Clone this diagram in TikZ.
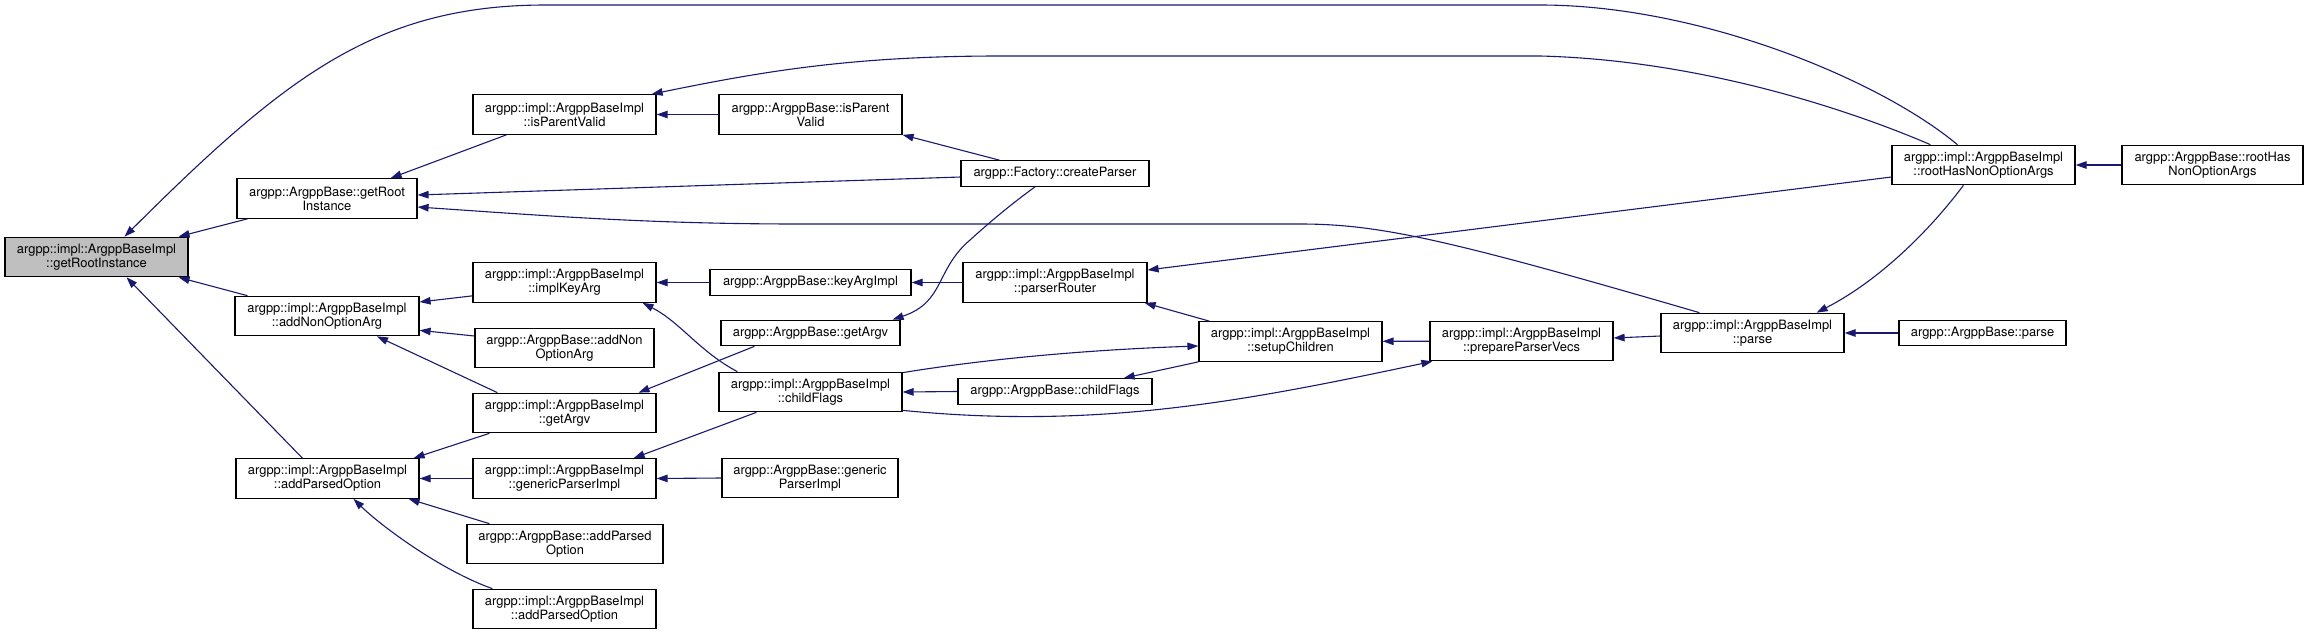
\documentclass[tikz,border=0pt]{standalone}
\usepackage{fontspec}
\setmainfont{TeX Gyre Heros}
\usepackage{xcolor}
\definecolor{callline}{HTML}{191970}
\definecolor{rootgray}{HTML}{BFBFBF}
\usepackage{tikz}
\usetikzlibrary{arrows.meta,calc}

\begin{document}
\begin{tikzpicture}[x=1pt,y=-1pt,>={Triangle[length=11pt,width=7.5pt]},
  every node/.style={font=\fontsize{12.9}{14}\selectfont},
  fn/.style={draw=black,fill=white,rectangle,inner sep=0pt,align=center,line width=1.2pt,minimum width=183pt,minimum height=39.5pt},
  fnone/.style={fn,minimum height=25.5pt},
  call/.style={<-,draw=callline,line width=1.1pt}]
\useasboundingbox (0,0) rectangle (2308,635);
\node[fn,fill=rootgray] (R) at (96.5,257) {argpp::impl::ArgppBaseImpl\\::getRootInstance};
\node[fn,minimum width=180pt] (GRI) at (327,198.5) {argpp::ArgppBase::getRoot\\Instance};
\node[fn,minimum width=184pt] (ANO) at (327,316) {argpp::impl::ArgppBaseImpl\\::addNonOptionArg};
\node[fn] (APO) at (327.5,478.5) {argpp::impl::ArgppBaseImpl\\::addParsedOption};
\node[fn] (IPV) at (564.5,114.5) {argpp::impl::ArgppBaseImpl\\::isParentValid};
\node[fn] (IKA) at (564.5,282.5) {argpp::impl::ArgppBaseImpl\\::implKeyArg};
\node[fn,minimum width=179pt] (BANO) at (564.5,348) {argpp::ArgppBase::addNon\\OptionArg};
\node[fn] (GAV) at (564.5,413) {argpp::impl::ArgppBaseImpl\\::getArgv};
\node[fn] (GPI) at (564.5,478.5) {argpp::impl::ArgppBaseImpl\\::genericParserImpl};
\node[fn,minimum width=196pt] (BAPO) at (565,544) {argpp::ArgppBase::addParsed\\Option};
\node[fn] (APOB) at (564.5,609) {argpp::impl::ArgppBaseImpl\\::addParsedOption};
\node[fn] (BIPV) at (810.5,114.5) {argpp::ArgppBase::isParent\\Valid};
\node[fnone,minimum width=188pt] (CP) at (1055,173.5) {argpp::Factory::createParser};
\node[fnone,minimum width=201pt] (KAI) at (810.5,282.5) {argpp::ArgppBase::keyArgImpl};
\node[fnone,minimum width=179pt] (BGAV) at (810.5,333) {argpp::ArgppBase::getArgv};
\node[fn] (CF) at (810.5,392) {argpp::impl::ArgppBaseImpl\\::childFlags};
\node[fn,minimum width=176pt] (BGPI) at (810,478) {argpp::ArgppBase::generic\\ParserImpl};
\node[fn,minimum width=184pt] (PR) at (1055,282.5) {argpp::impl::ArgppBaseImpl\\::parserRouter};
\node[fnone,minimum width=194pt] (BCF) at (1055,391.5) {argpp::ArgppBase::childFlags};
\node[fn] (SC) at (1290.5,341.5) {argpp::impl::ArgppBaseImpl\\::setupChildren};
\node[fn] (PPV) at (1521.5,341) {argpp::impl::ArgppBaseImpl\\::prepareParserVecs};
\node[fn] (P) at (1752.5,333) {argpp::impl::ArgppBaseImpl\\::parse};
\node[fn] (RHN) at (1983.5,165) {argpp::impl::ArgppBaseImpl\\::rootHasNonOptionArgs};
\node[fn,minimum width=181pt] (BRHN) at (2212.5,165) {argpp::ArgppBase::rootHas\\NonOptionArgs};
\node[fnone,minimum width=167pt] (BP) at (1982.5,333) {argpp::ArgppBase::parse};
\draw[call] ($(R.north)+(28,0)$) .. controls (285,77) and (376,5) .. (546,5) -- (1540,5) .. controls (1700,5) and (1880,80) .. ($(RHN.north west)+(66,0)$);
\draw[call] ($(R.north east)+(-10,0)$) -- ($(GRI.south west)+(11,0)$);
\draw[call] ($(R.south east)+(-10,0)$) -- ($(ANO.north west)+(13,0)$);
\draw[call] ($(R.south)+(30,0)$) -- ($(APO.north west)+(67,0)$);
\draw[call] ($(GRI.north east)+(-27,0)$) -- ($(IPV.south west)+(34,0)$);
\draw[call] ($(GRI.east)+(0,-3.5)$) -- ($(CP.west)+(0,3.5)$);
\draw[call] ($(GRI.east)+(0,8.5)$) .. controls (550,216) and (650,224) .. (800,224) -- (1300,224) .. controls (1380,224) and (1450,240) .. ($(P.north west)+(39,0)$);
\draw[call] ($(IPV.north east)+(-5,0)$) .. controls (760,72) and (850,56) .. (1000,56) -- (1540,56) .. controls (1700,60) and (1850,110) .. ($(RHN.north west)+(39,0)$);
\draw[call] (IPV) -- (BIPV);
\draw[call] (BIPV.south east) -- ($(CP.north west)+(39,0)$);
\draw[call] ($(ANO.east)+(0,-14)$) -- ($(IKA.south west)+(0,-7)$);
\draw[call] ($(ANO.south east)+(0,-6)$) -- ($(BANO.west)+(0,-12)$);
\draw[call] ($(ANO.south)+(50,0)$) -- ($(GAV.north west)+(25,0)$);
\draw[call] (IKA) -- (KAI);
\draw[call] ($(IKA.south east)+(-14,0)$) .. controls (680,322) and (700,352) .. ($(CF.north west)+(19,0)$);
\draw[call] ($(GAV.north east)+(-18,0)$) -- ($(BGAV.south west)+(34,0)$);
\draw[call] ($(BGAV.north east)+(-8,0)$) .. controls (945,302) and (935,270) .. (970,240) .. controls (990,222) and (1010,205) .. ($(CP.south)+(-20,0)$);
\draw[call] (KAI) -- (PR);
\draw[call] ($(PR.east)+(0,-12.5)$) -- ($(RHN.west)+(0,12)$);
\draw[call] ($(PR.south east)+(-3,0)$) -- ($(SC.north west)+(11,0)$);
\draw[call] ($(APO.north east)+(-6,0)$) -- ($(GAV.south west)+(17,0)$);
\draw[call] (APO) -- (GPI);
\draw[call] ($(APO.south east)+(-11,0)$) -- ($(BAPO.north west)+(23,0)$);
\draw[call] ($(APO.south)+(26,0)$) .. controls (380,525) and (440,570) .. ($(APOB.north west)+(20,0)$);
\draw[call] ($(GPI.north east)+(-23,0)$) -- ($(CF.south west)+(38,0)$);
\draw[call] (GPI.east) -- (BGPI.west);
\draw[call] (CF.east) -- (BCF.west);
\draw[call] ($(SC.west)+(0,4.5)$) .. controls (1080,350) and (980,360) .. ($(CF.north east)+(0,1)$);
\draw[call] ($(BCF.north east)+(-29,0)$) -- (SC.south west);
\draw[call] ($(PPV.south west)+(3,0)$) .. controls (1250,400) and (1100,430) .. ($(CF.south east)+(0,-2)$);
\draw[call] (SC) -- (PPV);
\draw[call] ($(PPV.east)+(0,-3)$) -- ($(P.west)+(0,3)$);
\draw[call] (P) -- (BP);
\draw[call] ($(P.north east)+(-28,0)$) .. controls (1880,280) and (1930,230) .. ($(RHN.south west)+(72,0)$);
\draw[call] (RHN) -- (BRHN);
\end{tikzpicture}
\end{document}
